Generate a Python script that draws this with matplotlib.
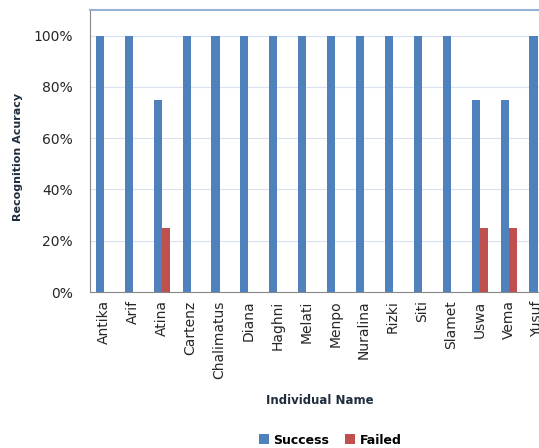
import matplotlib.pyplot as plt
import matplotlib.ticker as mticker
import numpy as np

names = ["Antika", "Arif", "Atina", "Cartenz", "Chalimatus", "Diana", "Haghni",
         "Melati", "Menpo", "Nuralina", "Rizki", "Siti", "Slamet", "Uswa",
         "Vema", "Yusuf"]
success = [1.0, 1.0, 0.75, 1.0, 1.0, 1.0, 1.0, 1.0, 1.0, 1.0, 1.0, 1.0, 1.0,
           0.75, 0.75, 1.0]
failed = [0, 0, 0.25, 0, 0, 0, 0, 0, 0, 0, 0, 0, 0, 0.25, 0.25, 0]

blue = "#4F81BD"
red = "#C0504D"

fig = plt.figure(figsize=(5.39, 4.48), dpi=100)
# plot area runs a little past the right edge, like the cropped original
ax = fig.add_axes([89.5 / 539, 1 - 292 / 448, (552 - 89.5) / 539, (292 - 10) / 448])

x = np.arange(len(names))
w = 0.28
ax.bar(x - w / 2, success, w, color=blue, label="Success", zorder=3)
ax.bar(x + w / 2, failed, w, color=red, label="Failed", zorder=3)

ax.set_xlim(-0.5, len(names) - 0.5)
ax.set_ylim(0, 1.1)
ax.set_yticks([0, 0.2, 0.4, 0.6, 0.8, 1.0])
ax.yaxis.set_major_formatter(mticker.PercentFormatter(1.0, decimals=0))
ax.grid(axis="y", color="#D9E1F2", linewidth=0.8, zorder=0)

ax.set_xticks(x)
ax.set_xticklabels(names, rotation=90, fontsize=10, color="#262626")
ax.tick_params(axis="y", labelsize=10, colors="#262626", length=0, pad=12)
ax.tick_params(axis="x", length=0, pad=6)

for s in ["left", "bottom"]:
    ax.spines[s].set_color("#888888")
ax.spines["top"].set_color("#95B3D7")
ax.spines["top"].set_linewidth(1.5)
ax.spines["right"].set_visible(False)

fig.text(18 / 539, 1 - 157 / 448, "Recognition Acuracy", rotation=90,
         fontsize=8, fontweight="bold", color="#1F2D3D", ha="center", va="center")
fig.text(320 / 539, 1 - 400 / 448, "Individual Name", fontsize=8.5,
         fontweight="bold", color="#1F2D3D", ha="center", va="center")

fig.legend(loc="center", bbox_to_anchor=(330 / 539, 1 - 440 / 448), ncol=2,
           frameon=False, handlelength=0.8, handleheight=0.8,
           columnspacing=1.2, handletextpad=0.4, prop={"weight": "bold", "size": 9})

fig.savefig("out.png", dpi=100)
